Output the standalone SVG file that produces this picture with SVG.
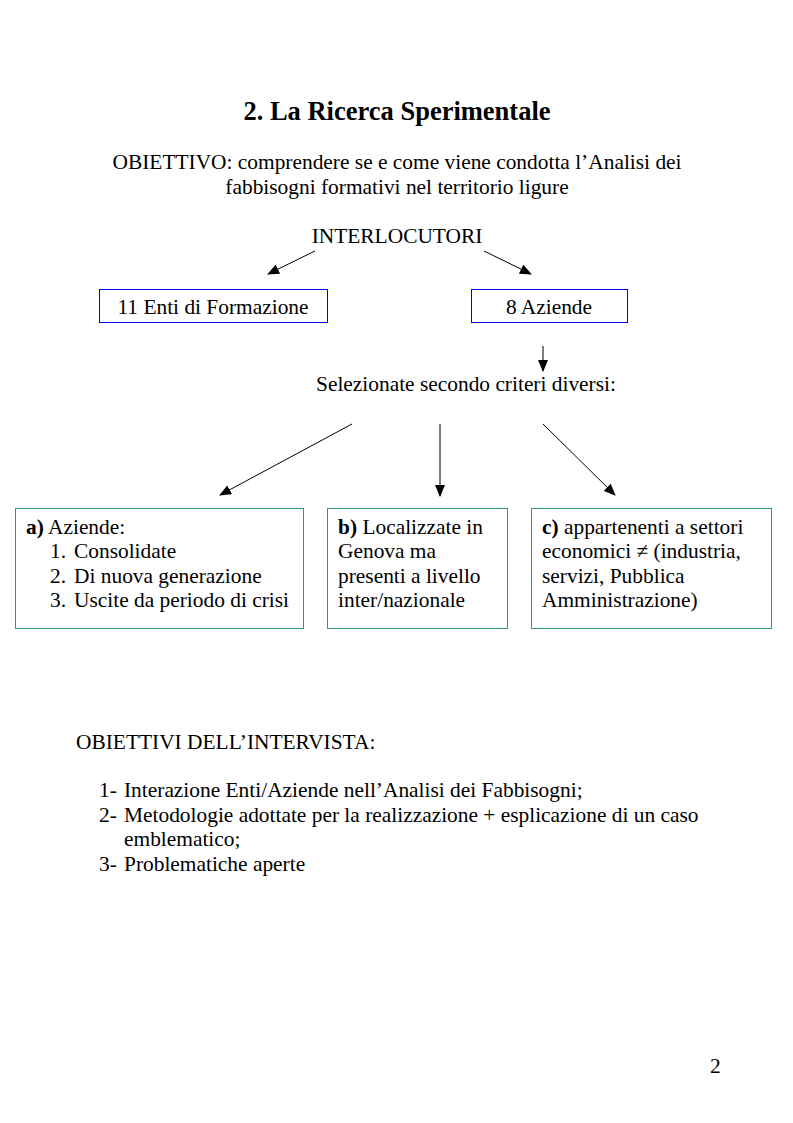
<svg xmlns="http://www.w3.org/2000/svg" width="793" height="1123" viewBox="0 0 793 1123">
<style>
text{font-family:"Liberation Serif","Times New Roman",serif;font-size:21.4px;fill:#000}
.t{font-size:26.5px;font-weight:bold}
.b{font-weight:bold}
.blue{fill:#fff;stroke:#0000ff;stroke-width:1}
.green{fill:#fff;stroke:#339966;stroke-width:1}
.c{stroke:#000;stroke-width:1;fill:none;marker-end:url(#ah)}
</style>
<defs>
<marker id="ah" markerWidth="12" markerHeight="10" refX="11" refY="5" orient="auto" markerUnits="userSpaceOnUse">
<path d="M0,0 L12,5 L0,10 Z" fill="#000"/>
</marker>
</defs>
<rect width="793" height="1123" fill="#fff"/>
<text class="t" x="397" y="120" text-anchor="middle">2. La Ricerca Sperimentale</text>
<text x="397" y="169" text-anchor="middle">OBIETTIVO: comprendere se e come viene condotta l’Analisi dei</text>
<text x="397" y="194" text-anchor="middle">fabbisogni formativi nel territorio ligure</text>
<text id="interlocutori" x="397" y="243" text-anchor="middle">INTERLOCUTORI</text>
<g id="enti"><rect class="blue" x="99.5" y="289.5" width="228" height="33"/><text x="213" y="314" text-anchor="middle">11 Enti di Formazione</text></g>
<g id="aziende"><rect class="blue" x="471.5" y="289.5" width="156" height="33"/><text x="549" y="314" text-anchor="middle">8 Aziende</text></g>
<g id="selezionate"><text x="316" y="391">Selezionate secondo criteri diversi:</text></g>
<g id="boxA"><rect class="green" x="15.5" y="508.5" width="288" height="120"/>
<text x="26" y="534"><tspan class="b">a)</tspan> Aziende:</text>
<text x="50" y="558">1.</text><text x="74" y="558">Consolidate</text>
<text x="50" y="583">2.</text><text x="74" y="583">Di nuova generazione</text>
<text x="50" y="607">3.</text><text x="74" y="607">Uscite da periodo di crisi</text></g>
<g id="boxB"><rect class="green" x="327.5" y="508.5" width="180" height="120"/>
<text x="338" y="534"><tspan class="b">b)</tspan> Localizzate in</text>
<text x="338" y="558">Genova ma</text>
<text x="338" y="583">presenti a livello</text>
<text x="338" y="607">inter/nazionale</text></g>
<g id="boxC"><rect class="green" x="531.5" y="508.5" width="240" height="120"/>
<text x="542" y="534"><tspan class="b">c)</tspan> appartenenti a settori</text>
<text x="542" y="558">economici ≠ (industria,</text>
<text x="542" y="583">servizi, Pubblica</text>
<text x="542" y="607">Amministrazione)</text></g>
<g id="connectors">
<line class="c" x1="315" y1="251" x2="268" y2="274"/>
<line class="c" x1="484" y1="251" x2="531" y2="274"/>
<line class="c" x1="543" y1="346" x2="543" y2="371"/>
<line class="c" x1="352" y1="424" x2="220" y2="495"/>
<line class="c" x1="440" y1="424" x2="440" y2="496"/>
<line class="c" x1="543" y1="424" x2="615" y2="495"/>
</g>
<text x="76" y="749">OBIETTIVI DELL’INTERVISTA:</text>
<text x="99" y="797">1-</text><text x="124" y="797">Interazione Enti/Aziende nell’Analisi dei Fabbisogni;</text>
<text x="99" y="822">2-</text><text x="124" y="822">Metodologie adottate per la realizzazione + esplicazione di un caso</text>
<text x="124" y="846">emblematico;</text>
<text x="99" y="871">3-</text><text x="124" y="871">Problematiche aperte</text>
<text x="710" y="1073">2</text>
</svg>
